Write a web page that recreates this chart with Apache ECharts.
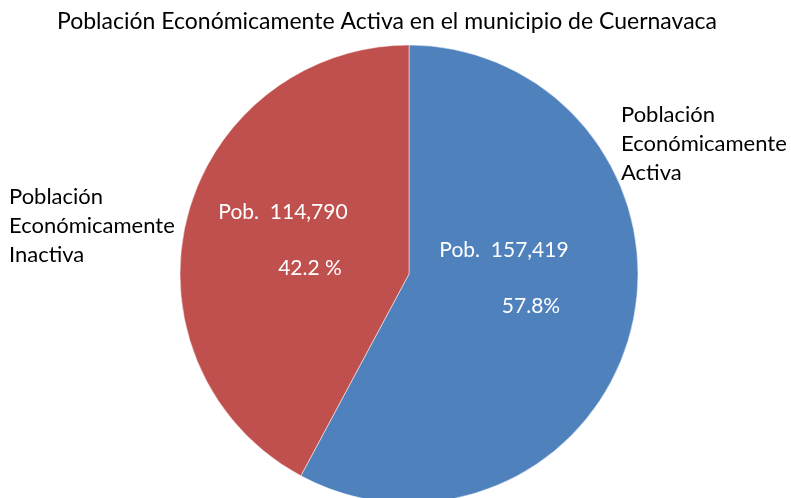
<!DOCTYPE html>
<html>
<head>
<meta charset="utf-8">
<script src="https://cdn.jsdelivr.net/npm/echarts@6/dist/echarts.min.js"></script>
<style>
  html, body { margin: 0; padding: 0; background: #fff; }
  #chart { width: 791px; height: 498px; }
</style>
</head>
<body>
<div id="chart"></div>
<script>
const names = ['Población\nEconómicamente\nActiva', 'Población\nEconómicamente\nInactiva'];
const values = [157419, 114790];
const pctLabels = ['57.8%', '42.2 %'];
const colors = ['#4f81bd', '#c0504d'];

// label spots
const innerPos = [[504, 278], [283, 240]];
const outerPos = [[621, 100], [9, 182]];

const chart = echarts.init(document.getElementById('chart'));
const font = 'Lato, sans-serif';

const data = names.map((n, i) => ({
  name: n,
  value: values[i],
  itemStyle: { color: colors[i] }
}));

chart.setOption({
  animation: false,
  title: {
    text: 'Población Económicamente Activa en el municipio de Cuernavaca',
    left: 52,
    top: 5,
    textStyle: { fontFamily: font, fontSize: 23, fontWeight: 'normal', color: '#000' }
  },
  series: [
    {
      type: 'pie',
      center: [409, 274],
      radius: 229,
      startAngle: 90,
      clockwise: true,
      silent: true,
      data: data,
      itemStyle: { borderColor: '#fff', borderWidth: 0.5 },
      labelLine: { show: false },
      label: {
        show: true,
        position: 'inside',
        color: '#fff',
        fontFamily: font,
        fontSize: 21,
        lineHeight: 28,
        align: 'center',
        formatter: (p) => {
          const i = p.dataIndex;
          return '{a|Pob.  ' + values[i].toLocaleString('en-US') + '}\n\n{b|' + pctLabels[i] + '}';
        },
        rich: {
          a: { color: '#fff', fontFamily: font, fontSize: 21, lineHeight: 28 },
          b: { color: '#fff', fontFamily: font, fontSize: 21, lineHeight: 28, padding: [0, 0, 0, 54] }
        }
      },
      labelLayout: (p) => ({
        x: innerPos[p.dataIndex][0],
        y: innerPos[p.dataIndex][1],
        align: 'center',
        verticalAlign: 'middle'
      })
    },
    {
      type: 'pie',
      center: [409, 274],
      radius: 229,
      startAngle: 90,
      silent: true,
      data: names.map((n, i) => ({ name: n, value: values[i] })),
      itemStyle: { color: 'transparent' },
      labelLine: { show: false },
      label: {
        show: true,
        position: 'outside',
        color: '#000',
        fontFamily: font,
        fontSize: 22,
        lineHeight: 29,
        align: 'left',
        overflow: 'none',
        width: 220,
        formatter: '{b}'
      },
      labelLayout: (p) => ({
        x: outerPos[p.dataIndex][0],
        y: outerPos[p.dataIndex][1],
        align: 'left',
        verticalAlign: 'top',
        hideOverlap: false
      })
    }
  ]
});
</script>
</body>
</html>
